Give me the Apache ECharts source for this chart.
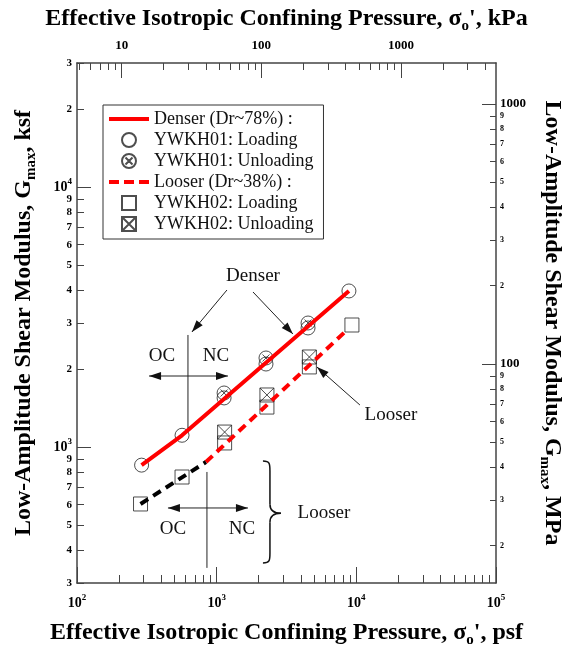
<!DOCTYPE html>
<html><head><meta charset="utf-8">
<script src="https://cdn.jsdelivr.net/npm/echarts@6/dist/echarts.min.js"></script>
<style>html,body{margin:0;padding:0;background:#fff}#c{width:568px;height:649px}</style>
</head><body><div id="c"></div>
<script>
// ---------------- data (psf / ksf) ----------------
const PSF_TO_KPA = 0.04788;
const KSF_TO_MPA = 0.04788;

const denserLoadX   = [290, 565, 1130, 2255, 4510, 8850];
const denserLoadY   = [852, 1110, 1545, 2086, 2871, 3984];
const denserUnloadX = [1130, 2255, 4510];
const denserUnloadY = [1614, 2201, 3000];

const looserLoadX   = [285, 565, 1140, 2290, 4610, 9300];
const looserLoadY   = [604, 767, 1037, 1425, 2033, 2947];
const looserUnloadX = [1140, 2290, 4610];
const looserUnloadY = [1142, 1586, 2220];

const denserFitX   = [290, 565, 8850];
const denserFitY   = [852, 1110, 3984];
const looserOcFitX = [285, 838];
const looserOcFitY = [604, 876];
const looserNcFitX = [838, 8570];
const looserNcFitY = [876, 2820];

// tick values
const psfMajor = [100, 1000, 10000, 100000];
const psfMinor = [200,300,400,500,600,700,800,900,2000,3000,4000,5000,6000,7000,8000,9000,20000,30000,40000,50000,60000,70000,80000,90000];
const kpaMajor = [10, 100, 1000];
const kpaMinor = [5,6,7,8,9,20,30,40,50,60,70,80,90,200,300,400,500,600,700,800,900,2000,3000,4000];
const ksfMajor = [1000, 10000];
const ksfMinor = [300,400,500,600,700,800,900,2000,3000,4000,5000,6000,7000,8000,9000,20000,30000];
const mpaMajor = [100, 1000];
const mpaMinor = [20,30,40,50,60,70,80,90,200,300,400,500,600,700,800,900];

const legendNames = ['Denser (Dr~78%) :', 'YWKH01: Loading', 'YWKH01: Unloading', 'Looser (Dr~38%) :', 'YWKH02: Loading', 'YWKH02: Unloading'];

// ---------------- helpers ----------------
const FF = 'Liberation Serif';
const AX = '#444';
function zip(xs, ys){ return xs.map((x,i)=>[x, ys[i]]); }
const circleX = 'path://M0,10A10,10,0,1,1,20,10A10,10,0,1,1,0,10Z M5,5L15,15 M15,5L5,15';
const squareX = 'path://M0,0H20V20H0Z M0,0L20,20 M20,0L0,20';
const circleP = 'path://M0,10A10,10,0,1,1,20,10A10,10,0,1,1,0,10Z';
const squareP = 'path://M0,0H20V20H0Z';
const solidIcon = 'path://M0,0H40V4H0Z';
const dashIcon = 'path://M0,0H10V4H0Z M15,0H25V4H15Z M30,0H40V4H30Z';

const supRich = {
  b: {fontFamily: FF, fontWeight: 'bold', fontSize: 14, lineHeight: 20, color: '#000'},
  p: {fontFamily: FF, fontWeight: 'bold', fontSize: 9, lineHeight: 9, verticalAlign: 'top', color: '#000'},
  m: {fontFamily: FF, fontWeight: 'bold', fontSize: 11, color: '#000'},
  s: {fontFamily: FF, fontWeight: 'bold', fontSize: 8, color: '#000'},
  n: {fontFamily: FF, fontWeight: 'bold', fontSize: 13, color: '#000'}
};
const titleRich = {
  t: {fontFamily: FF, fontWeight: 'bold', fontSize: 24, lineHeight: 30, color: '#000'},
  sub: {fontFamily: FF, fontWeight: 'bold', fontSize: 15, lineHeight: 15, verticalAlign: 'bottom', color: '#000'}
};
function pow10Label(v){ const e = Math.round(Math.log10(v)); return '{b|10}{p|' + e + '}'; }
function ksfLabel(v){ const r = Math.round(v); if (r === 1000 || r === 10000) return pow10Label(r); return '{m|' + String(r).charAt(0) + '}'; }
function mpaLabel(v){ const r = Math.round(v); if (r === 100 || r === 1000) return '{n|' + r + '}'; return '{s|' + String(r).charAt(0) + '}'; }

function baseAxis(extra){
  return Object.assign({
    type: 'log', logBase: 10, gridIndex: 0,
    splitLine: {show: false}, minorTick: {show: false}, minorSplitLine: {show: false},
    axisLine: {show: false, onZero: false},
    axisLabel: {show: false},
    axisPointer: {show: false}
  }, extra);
}

const chart = echarts.init(document.getElementById('c'));
const xMin = 100, xMax = 100000, yMin = 300, yMax = 30000;

const option = {
  animation: false,
  backgroundColor: '#fff',
  grid: {left: 77, top: 63, width: 419, height: 520, show: false, containLabel: false, outerBoundsMode: 'none'},
  xAxis: [
    baseAxis({position: 'bottom', min: xMin, max: xMax,
      axisLine: {show: true, onZero: false, lineStyle: {color: AX, width: 1.5}},
      axisTick: {show: true, inside: true, length: 8, customValues: psfMinor, lineStyle: {color: AX, width: 1}},
      axisLabel: {show: true, customValues: psfMajor, margin: 10, formatter: pow10Label, rich: supRich},
      name: '{t|Effective Isotropic Confining Pressure, σ}{sub|o}{t|\', psf}',
      nameLocation: 'middle', nameGap: 35, nameTextStyle: {rich: titleRich}
    }),
    baseAxis({position: 'bottom', min: xMin, max: xMax,
      axisTick: {show: true, inside: true, length: 16, customValues: psfMajor, lineStyle: {color: AX, width: 1}}
    }),
    baseAxis({position: 'top', min: xMin * PSF_TO_KPA, max: xMax * PSF_TO_KPA,
      axisLine: {show: true, onZero: false, lineStyle: {color: AX, width: 1.5}},
      axisTick: {show: true, inside: true, length: 7, customValues: kpaMinor, lineStyle: {color: AX, width: 1}},
      axisLabel: {show: true, customValues: kpaMajor, margin: 11, formatter: v => '{n|' + Math.round(v) + '}', rich: supRich},
      name: '{t|Effective Isotropic Confining Pressure, σ}{sub|o}{t|\', kPa}',
      nameLocation: 'middle', nameGap: 28, nameTextStyle: {rich: titleRich}
    }),
    baseAxis({position: 'top', min: xMin * PSF_TO_KPA, max: xMax * PSF_TO_KPA,
      axisTick: {show: true, inside: true, length: 15, customValues: kpaMajor, lineStyle: {color: AX, width: 1}}
    })
  ],
  yAxis: [
    baseAxis({position: 'left', min: yMin, max: yMax,
      axisLine: {show: true, onZero: false, lineStyle: {color: AX, width: 1.5}},
      axisTick: {show: true, inside: true, length: 7, customValues: ksfMinor, lineStyle: {color: AX, width: 1}},
      axisLabel: {show: true, customValues: ksfMajor.concat(ksfMinor), margin: 5, formatter: ksfLabel, rich: supRich},
      name: '{t|Low-Amplitude Shear Modulus, G}{sub|max}{t|, ksf}',
      nameLocation: 'middle', nameGap: 38, nameRotate: 90, nameTextStyle: {rich: titleRich}
    }),
    baseAxis({position: 'left', min: yMin, max: yMax,
      axisTick: {show: true, inside: true, length: 14, customValues: ksfMajor, lineStyle: {color: AX, width: 1}}
    }),
    baseAxis({position: 'right', min: yMin * KSF_TO_MPA, max: yMax * KSF_TO_MPA,
      axisLine: {show: true, onZero: false, lineStyle: {color: AX, width: 1.5}},
      axisTick: {show: true, inside: true, length: 6, customValues: mpaMinor, lineStyle: {color: AX, width: 1}},
      axisLabel: {show: true, customValues: mpaMajor.concat(mpaMinor), margin: 4, formatter: mpaLabel, rich: supRich},
      name: '{t|Low-Amplitude Shear Modulus, G}{sub|max}{t|, MPa}',
      nameLocation: 'middle', nameGap: 37, nameRotate: -90, nameTextStyle: {rich: titleRich}
    }),
    baseAxis({position: 'right', min: yMin * KSF_TO_MPA, max: yMax * KSF_TO_MPA,
      axisTick: {show: true, inside: true, length: 14, customValues: mpaMajor, lineStyle: {color: AX, width: 1}}
    })
  ],
  legend: {
    orient: 'vertical', left: 103, top: 105, padding: [5, 10, 6, 6], itemGap: 3,
    itemWidth: 40, itemHeight: 14, backgroundColor: '#fff', borderColor: '#333', borderWidth: 1,
    selectedMode: false,
    textStyle: {fontFamily: FF, fontSize: 18, lineHeight: 18, color: '#111'},
    data: [
      {name: legendNames[0], icon: solidIcon},
      {name: legendNames[1], icon: circleP},
      {name: legendNames[2], icon: circleX},
      {name: legendNames[3], icon: dashIcon},
      {name: legendNames[4], icon: squareP},
      {name: legendNames[5], icon: squareX}
    ]
  },
  series: [
    {name: legendNames[0], type: 'line', xAxisIndex: 0, yAxisIndex: 0, data: zip(denserFitX, denserFitY),
      symbol: 'none', z: 4, color: '#f00', lineStyle: {color: '#f00', width: 4}},
    {name: legendNames[1], type: 'scatter', xAxisIndex: 0, yAxisIndex: 0, data: zip(denserLoadX, denserLoadY),
      symbol: circleP, symbolSize: 14, z: 2, itemStyle: {color: 'rgba(0,0,0,0)', borderColor: '#222', borderWidth: 1}},
    {name: legendNames[2], type: 'scatter', xAxisIndex: 0, yAxisIndex: 0, data: zip(denserUnloadX, denserUnloadY),
      symbol: circleX, symbolSize: 14, z: 2, itemStyle: {color: 'rgba(0,0,0,0)', borderColor: '#222', borderWidth: 1}},
    {name: legendNames[3], type: 'line', xAxisIndex: 0, yAxisIndex: 0, data: zip(looserNcFitX, looserNcFitY),
      symbol: 'none', z: 4, color: '#f00', lineStyle: {color: '#f00', width: 4, type: [9, 6]}},
    {name: 'looser-oc', type: 'line', xAxisIndex: 0, yAxisIndex: 0, data: zip(looserOcFitX, looserOcFitY),
      symbol: 'none', z: 4, color: '#000', lineStyle: {color: '#000', width: 4, type: [9, 6]}},
    {name: legendNames[4], type: 'scatter', xAxisIndex: 0, yAxisIndex: 0, data: zip(looserLoadX, looserLoadY),
      symbol: squareP, symbolSize: 14, z: 2, itemStyle: {color: 'rgba(0,0,0,0)', borderColor: '#222', borderWidth: 1}},
    {name: legendNames[5], type: 'scatter', xAxisIndex: 0, yAxisIndex: 0, data: zip(looserUnloadX, looserUnloadY),
      symbol: squareX, symbolSize: 14, z: 2, itemStyle: {color: 'rgba(0,0,0,0)', borderColor: '#222', borderWidth: 1}}
  ]
};
chart.setOption(option);

// ---------------- annotations (anchored in data units: psf, ksf) ----------------
const ann = {
  denserText: [1820, 4550],
  denserArrows: [[[1185, 4018], [665, 2770]], [[1820, 3948], [3516, 2721]]],
  upperDivider: [[623, 2698], [623, 1184]],
  upperDouble: [[328, 1876], [1205, 1876]],
  upperOC: [406, 2240], upperNC: [989, 2240],
  lowerDivider: [[852, 802], [852, 343]],
  lowerDouble: [[448, 583], [1675, 583]],
  lowerOC: [486, 484], lowerNC: [1517, 484],
  brace: {x: 2407, top: 884, bottom: 358, tip: 557},
  lowerLooser: [5860, 557],
  upperLooser: [17690, 1328],
  looserArrow: [[10610, 1451], [5224, 2032]]
};
function P(p){ return chart.convertToPixel({seriesIndex: 0}, p); }
const TXT = '19px "Liberation Serif"';
function text(p, s){ const q = P(p); return {type: 'text', x: q[0], y: q[1], silent: true, z: 10,
  style: {text: s, font: TXT, fill: '#111', align: 'center', verticalAlign: 'middle'}}; }
function head(x, y, a){
  const L = 12, W = 4, c = Math.cos(a), s = Math.sin(a);
  return {type: 'polygon', silent: true, z: 10, shape: {points: [[x, y], [x - L*c + W*s, y - L*s - W*c], [x - L*c - W*s, y - L*s + W*c]]}, style: {fill: '#111'}};
}
function seg(a, b){ const p = P(a), q = P(b); return {type: 'line', silent: true, z: 10, shape: {x1: p[0], y1: p[1], x2: q[0], y2: q[1]}, style: {stroke: '#222', lineWidth: 1}}; }
function arrow(a, b, both){
  const p = P(a), q = P(b); const ang = Math.atan2(q[1]-p[1], q[0]-p[0]);
  const els = [seg(a, b), head(q[0], q[1], ang)];
  if (both) els.push(head(p[0], p[1], ang + Math.PI));
  return els;
}
function bez(x1, y1, cx1, cy1, cx2, cy2, x2, y2){
  return {type: 'bezierCurve', silent: true, z: 10,
    shape: {x1: x1, y1: y1, cpx1: cx1, cpy1: cy1, cpx2: cx2, cpy2: cy2, x2: x2, y2: y2},
    style: {stroke: '#111', fill: null, lineWidth: 1.5}};
}
function pline(x1, y1, x2, y2){
  return {type: 'line', silent: true, z: 10, shape: {x1: x1, y1: y1, x2: x2, y2: y2}, style: {stroke: '#111', lineWidth: 1.5}};
}
function brace(b){
  const t = P([b.x, b.top]), m = P([b.x, b.tip]), bo = P([b.x, b.bottom]);
  const x = t[0], x0 = x - 7, yt = t[1], ym = m[1], yb = bo[1];
  return [
    bez(x0, yt, x, yt, x, yt + 3, x, yt + 10),
    pline(x, yt + 10, x, ym - 9),
    bez(x, ym - 9, x, ym - 2, x + 5, ym, x + 11, ym),
    bez(x + 11, ym, x + 5, ym, x, ym + 2, x, ym + 9),
    pline(x, ym + 9, x, yb - 10),
    bez(x, yb - 10, x, yb - 3, x, yb, x0, yb)
  ];
}
const g = [];
g.push(text(ann.denserText, 'Denser'));
ann.denserArrows.forEach(a => g.push(...arrow(a[0], a[1], false)));
g.push(seg(ann.upperDivider[0], ann.upperDivider[1]));
g.push(...arrow(ann.upperDouble[0], ann.upperDouble[1], true));
g.push(text(ann.upperOC, 'OC'), text(ann.upperNC, 'NC'));
g.push(seg(ann.lowerDivider[0], ann.lowerDivider[1]));
g.push(...arrow(ann.lowerDouble[0], ann.lowerDouble[1], true));
g.push(text(ann.lowerOC, 'OC'), text(ann.lowerNC, 'NC'));
g.push(...brace(ann.brace));
g.push(text(ann.lowerLooser, 'Looser'));
g.push(text(ann.upperLooser, 'Looser'));
g.push(...arrow(ann.looserArrow[0], ann.looserArrow[1], false));
chart.setOption({graphic: {elements: g}});
</script>
</body></html>
